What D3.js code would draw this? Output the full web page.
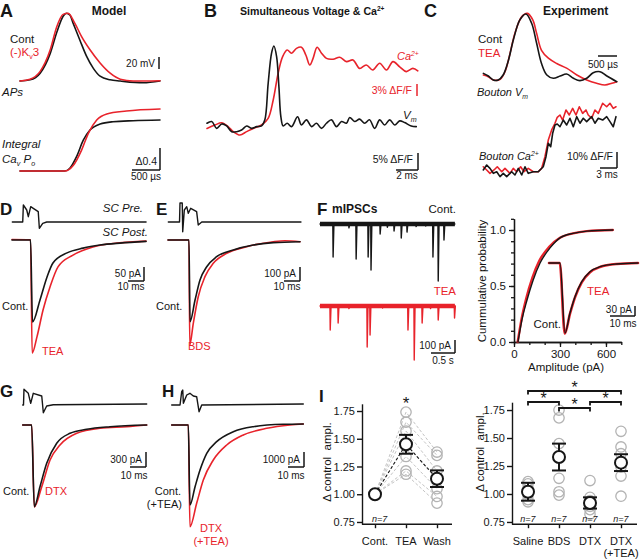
<!DOCTYPE html>
<html><head><meta charset="utf-8">
<script src="https://cdn.jsdelivr.net/npm/d3@7"></script>
<style>body{margin:0;background:#fff}</style>
</head><body><svg id="fig" width="640" height="559"></svg>
<script>
const RED = "#e8232b", BLK = "#161616", GREY = "#b3b3b3";
const FONT = '"Liberation Sans", Arial, Helvetica, sans-serif';

// ================= DATA =================
// A: model APs (ms, mV) and integral CaV Po
const apContA = [[0,-70],[0.18,-68],[0.36,-57],[0.54,-24],[0.66,12],[0.77,38],[0.83,43],[0.89,40],[0.95,26],[1.07,-2],[1.19,-29],[1.31,-49],[1.43,-62],[1.61,-68],[1.79,-70],[2.2,-73],[2.5,-70]];
const apKv3A  = [[0,-70],[0.18,-67],[0.36,-54],[0.54,-18],[0.655,20],[0.77,41],[0.86,43],[0.98,26],[1.10,4],[1.25,-18],[1.43,-40],[1.61,-57],[1.79,-67],[2.02,-70],[2.5,-69.5]];
const intContA = [[0,0],[0.8,0],[0.89,0.05],[1.01,0.26],[1.13,0.56],[1.25,0.745],[1.43,0.855],[1.66,0.896],[2.02,0.915],[2.5,0.927]];
const intKv3A  = [[0,0],[0.8,0],[0.95,0.1],[1.10,0.38],[1.22,0.685],[1.37,0.927],[1.55,1.036],[1.9,1.09],[2.5,1.127]];

// B: simultaneous Vm and Ca (ms, % dF/F)
const vmB = [[0,1.4],[0.43,1.9],[0.88,-0.1],[1.34,1.2],[1.79,0.6],[2.25,-1.1],[2.7,-1.1],[3.15,-0.6],[3.61,0.6],[4.06,-0.1],[4.52,0.4],[4.97,0.6],[5.27,2.4],[5.57,13.1],[5.88,22.0],[6.09,24.1],[6.34,21.0],[6.55,12.1],[6.73,3.3],[6.94,0.6],[7.3,1.4],[7.7,0.4],[8.25,3.3],[8.6,0.9],[9.06,2.4],[9.52,0.4],[9.97,1.4],[10.43,-0.1],[10.88,1.4],[11.34,2.4],[11.79,0.4],[12.25,1.9],[12.7,1.4],[13.0,3.1],[13.45,1.9],[13.9,2.6],[14.36,1.4],[14.8,2.4],[15.27,-0.1],[15.73,2.4],[16.18,0.9],[16.64,2.4],[17.1,0.9],[17.55,2.1],[18.0,1.6],[18.6,0.6],[19.06,0.4]];
const caB = [[0,-0.1],[0.73,0.75],[1.34,1.3],[1.94,0.3],[2.39,-0.9],[3.0,-1.75],[3.61,-0.9],[4.21,-0.1],[4.97,0.75],[5.57,2.4],[6.03,7.0],[6.48,13.7],[6.88,17.8],[7.3,19.5],[7.7,18.7],[8.15,19.9],[8.6,20.2],[9.0,18.25],[9.36,15.75],[9.66,17.4],[10.03,20.2],[10.43,18.7],[10.88,17.4],[11.48,17.2],[12.09,17.7],[12.7,16.6],[13.3,17],[13.9,14.9],[14.5,15.75],[15.1,14.5],[15.73,16.2],[16.34,14.5],[16.94,16.6],[17.55,15.3],[18.15,14.1],[18.75,14.9],[19.2,14.3]];

// C: experiment, bouton Vm (ms, normalised) and bouton Ca (ms, % dF/F)
const vmContC = [[0.01,0.10],[0.14,0.06],[0.27,0],[0.40,0],[0.53,0.076],[0.67,0.30],[0.80,0.61],[0.97,0.91],[1.13,1.0],[1.28,0.86],[1.41,0.56],[1.54,0.25],[1.68,0.076],[1.85,0.026],[2.03,0.06],[2.20,0.09],[2.38,0.026],[2.55,-0.01],[2.73,0.026],[2.90,0.11],[3.08,0.126],[3.26,0.06],[3.52,-0.026]];
const vmTeaC  = [[0.01,0.076],[0.14,0.05],[0.27,0],[0.45,0.01],[0.58,0.126],[0.71,0.40],[0.84,0.71],[1.02,0.96],[1.17,1.01],[1.31,0.91],[1.41,0.71],[1.54,0.45],[1.72,0.33],[1.94,0.25],[2.20,0.18],[2.47,0.076],[2.73,0],[2.99,-0.05],[3.21,-0.076],[3.39,-0.05],[3.52,-0.026]];
const caContC = [[0.05,1.9],[0.65,5],[1.23,2.9],[1.82,-0.2],[2.42,0.8],[3.0,-2.3],[3.58,-0.2],[4.18,-2.3],[5.06,0.8],[5.64,-1.25],[6.23,2.9],[6.83,-1.25],[7.41,3.9],[7.99,-0.2],[8.87,0.8],[9.75,0.8],[10.63,3.9],[11.11,10.2],[11.52,18.6],[11.94,16.4],[12.29,24.8],[12.70,30],[13.10,30.6],[13.58,28.9],[14.16,33.1],[14.76,30],[15.34,34.2],[15.93,28.9],[16.53,35.2],[17.11,31.1],[17.69,34.2],[18.29,32.1],[19.17,35.2],[19.75,31.1],[20.34,34.2],[21.11,33.1],[21.82,35.2],[22.4,32.1],[22.98,28.9],[23.46,35.2]];
const caTeaC  = [[0.05,3.9],[0.65,1.9],[1.23,-0.2],[1.94,1.9],[2.52,3.9],[3.3,0.8],[3.88,2.9],[4.76,-0.2],[5.34,2.9],[5.94,0.8],[6.64,3.9],[7.23,0.8],[7.99,2.9],[8.87,0.8],[9.75,0.8],[10.34,2.9],[10.93,10.2],[11.52,20.6],[12.11,26.9],[12.70,31.1],[13.10,34.8],[13.58,36.25],[14.05,33.1],[14.64,39.4],[15.22,36.25],[15.82,40.4],[16.4,36.25],[16.99,41.4],[17.58,37.3],[18.17,39.4],[18.57,36.25],[19.17,34.2],[19.75,39.4],[20.34,37.3],[21.11,43.6],[21.82,41.4],[22.4,43.6],[22.98,40.4],[23.46,41.4]];

// D, E, G, H: presynaptic stimulus (ms, a.u.) and IPSCs (ms, pA)
const preD = [[0.2,0],[6.7,0],[7.1,17],[9.2,12],[10.2,5.3],[11.7,15.3],[13.3,13.7],[16.4,10.3],[17.1,-6.3],[19.2,-1.3],[21.7,0],[83.8,0]];
const contD = [[0,0],[11.6,0],[12.8,-293],[17.5,-214],[21.9,-132],[25.6,-82],[34.4,-46],[44.4,-29],[55,-18],[67.5,-11],[83.75,-5]];
const teaD  = [[0,2],[11.6,1],[12.6,-404],[15.6,-346],[19.4,-250],[23.75,-168],[28.75,-96],[38.1,-54],[50.6,-25],[65.6,-11],[83.75,-4]];
const preE = [[0.2,0],[7.2,0],[7.5,19],[8.9,19],[9.2,-9.7],[10.2,12],[11.7,15.3],[12.7,8.7],[14.2,13.7],[17.9,10.3],[18.9,-3],[21.1,0],[83.1,0]];
const contE = [[0,0],[13.1,0],[13.75,-583],[16.9,-429],[20,-286],[24.2,-191],[30.4,-119],[40.8,-71],[53.3,-36],[65.8,-19],[82.5,-12]];
const bdsE  = [[0,0],[13.1,0],[13.6,-750],[15.8,-595],[18.9,-405],[23.1,-262],[28.3,-166],[36.7,-95],[49.2,-48],[65.8,-12],[73.1,-5],[82.5,-12]];
const preG = [[0,0],[0.5,0],[0.8,15.7],[3.5,11.7],[5,1.7],[6.6,11.7],[11.9,9],[12.9,-7.7],[15,-1],[19.1,0.3],[77.5,1]];
const contG = [[0,0],[5.6,0],[7.25,-1634],[10.8,-1234],[15,-766],[21.25,-366],[29.6,-166],[40,-86],[54.6,-34],[77.5,0]];
const dtxG  = [[0,0],[5.6,0],[7.25,-1640],[11.9,-1234],[17.1,-700],[23.3,-400],[33.75,-166],[48.3,-66],[65,-34],[77.5,0]];
const preH = [[0,0],[5.2,0],[6.25,13.3],[6.9,15],[7.3,1.7],[9.4,10],[11.4,11.7],[13.5,9],[15.6,8.3],[17.1,-6.7],[18.75,0],[82.25,1]];
const contH = [[0,0],[10.4,0],[11.4,-5333],[14.6,-4113],[17.7,-3000],[21.9,-1887],[28.1,-1113],[38.5,-447],[51,-113],[69.75,47],[82.25,67]];
const dtxH  = [[0,0],[10.4,0],[11.4,-6780],[15.6,-5220],[19.75,-3667],[26,-2333],[34.4,-1333],[44.75,-667],[59.4,-222],[73.9,0],[82.25,67]];

// F: mIPSC events (time s, amplitude pA)
const mipscCont = [[0.27,254],[0.6,30],[0.75,269],[1.0,254],[1.06,354],[1.25,77],[1.4,25],[1.54,54],[1.69,108],[1.81,62],[2.0,20],[2.2,15],[2.35,254],[2.46,438],[2.58,123]];
const mipscTea  = [[0.21,185],[0.375,131],[0.6,20],[0.98,315],[1.04,223],[1.3,15],[1.83,185],[1.96,415],[2.125,131],[2.3,20],[2.46,108],[2.80,92]];
const mipscDur = 2.81;
// F: cumulative amplitude distributions (pA, probability)
const cdfCont = [[26,0],[52,0.20],[85,0.375],[124,0.55],[170,0.705],[235,0.84],[300,0.93],[385,0.97],[476,0.99],[645,1.0]];
const cdfTea  = [[24,0],[50,0.21],[80,0.39],[120,0.575],[165,0.725],[230,0.85],[300,0.93],[385,0.97],[476,0.99],[645,1.0]];
// F inset: average mIPSC (ms, pA)
const avgCont = [[0,0],[4.4,0],[6.4,-210],[8.4,-150],[10.4,-101],[13.1,-56],[16.4,-26],[20.4,-11],[27.1,-3],[35.6,0]];
const avgTea  = [[0,0],[4.3,0],[6.3,-212],[8.4,-152],[10.4,-103],[13.1,-58],[16.4,-28],[20.4,-12],[27.1,-3],[35.6,0]];
const cdfXTicks = [0, 300, 600];
const cdfYTicks = [0, 0.5, 1.0];

// I left: TEA wash-in (normalised amplitude)
const catsL = ["Cont.", "TEA", "Wash"];
const contI = [1,1,1,1,1,1,1];
const teaI  = [1.74,1.65,1.57,1.45,1.34,1.21,1.18];
const washI = [1.38,1.35,1.21,1.13,1.05,0.98,0.92];
const meanL = [1.00, 1.45, 1.14];
const semL  = [0, 0.085, 0.075];
// I right: groups
const catsR = ["Saline", "BDS", "DTX", "DTX (+TEA)"];
const salineI = [1.11,1.09,1.05,1.02,0.99,0.95,0.93];
const bdsI    = [1.75,1.68,1.45,1.33,1.14,1.02,0.99];
const dtxI    = [1.12,0.97,0.94,0.91,0.89,0.86,0.82];
const dtxTeaI = [1.56,1.42,1.36,1.28,1.24,1.16,0.98];
const meanR = [1.02, 1.33, 0.92, 1.28];
const semR  = [0.08, 0.12, 0.05, 0.075];
const sigPairs = [["Saline","DTX (+TEA)",0],["Saline","BDS",1],["DTX","DTX (+TEA)",1],["BDS","DTX",2]];
const iTicks = [0.75, 1.00, 1.25, 1.50, 1.75];

// ================= DRAWING =================
const svg = d3.select("#fig");
svg.append("rect").attr("width",640).attr("height",559).attr("fill","#fff");
const g = svg.append("g");

function path(data, xs, ys, color, w, curve) {
  return g.append("path").datum(data)
    .attr("fill","none").attr("stroke",color).attr("stroke-width",w||1.5)
    .attr("stroke-linejoin","round").attr("stroke-linecap","round")
    .attr("d", d3.line().x(d=>xs(d[0])).y(d=>ys(d[1])).curve(curve||d3.curveLinear));
}
function seg(x1,y1,x2,y2,color,w){
  return g.append("line").attr("x1",x1).attr("y1",y1).attr("x2",x2).attr("y2",y2)
    .attr("stroke",color||BLK).attr("stroke-width",w||1.4);
}
function T(x, y, parts, o) {
  o = o||{};
  const fs = o.size||11;
  const el = g.append("text").attr("x",x).attr("y",y)
    .attr("font-size", fs).attr("font-family",FONT)
    .attr("fill", o.fill||BLK).attr("text-anchor", o.anchor||"start");
  if (o.bold) el.attr("font-weight","bold");
  if (o.italic) el.attr("font-style","italic");
  if (o.rotate) el.attr("transform",`rotate(${o.rotate},${x},${y})`);
  if (typeof parts === "string") parts=[{t:parts}];
  let shift = 0;
  parts.forEach(p=>{
    const ts = el.append("tspan").text(p.t);
    const target = p.sub ? 0.3*fs : (p.sup ? -0.4*fs : 0);
    ts.attr("dy", target - shift); shift = target;
    if (p.sub||p.sup) ts.attr("font-size", fs*0.62);
    if (p.fill) ts.attr("fill",p.fill);
  });
  return el;
}
function vbar(x, yb, len, c){ seg(x, yb, x, yb-len, c, 1.5); }
function hbar(xr, y, len, c){ seg(xr-len, y, xr, y, c, 1.5); }
const LW = 1.6;

// ---------- A ----------
const xA = d3.scaleLinear().domain([0,2.5]).range([20,160]);
const yApA = d3.scaleLinear().domain([-70,43]).range([81,13.2]);
const yIntA = d3.scaleLinear().domain([0,1]).range([171,116]);
path(apContA, xA, yApA, BLK, LW, d3.curveMonotoneX);
path(apKv3A, xA, yApA, RED, LW, d3.curveMonotoneX);
path(intContA, xA, yIntA, BLK, LW, d3.curveMonotoneX);
path(intKv3A, xA, yIntA, RED, LW, d3.curveMonotoneX);
vbar(159, 69, yApA(-70)-yApA(-50));
vbar(160, 170, yIntA(0)-yIntA(0.4));
hbar(160, 170, xA(0.5)-xA(0));
T(0, 17, "A", {size:18, bold:true});
T(109, 15, "Model", {size:12, bold:true, anchor:"middle"});
T(10, 43, "Cont", {size:11.5});
T(10, 56, [{t:"(-)K"},{t:"v",sub:true},{t:"3"}], {size:11.5, fill:RED});
T(155, 67, "20 mV", {size:10, anchor:"end"});
T(2, 96, "APs", {size:11.5, italic:true});
T(2, 148, "Integral", {size:11.5, italic:true});
T(2, 163, [{t:"Ca"},{t:"v",sub:true},{t:" P"},{t:"o",sub:true}], {size:11.5, italic:true});
T(157, 165, "Δ0.4", {size:10.5, anchor:"end"});
T(146, 180, "500 µs", {size:10, anchor:"middle"});

// ---------- B ----------
const xB = d3.scaleLinear().domain([0,19.4]).range([207,420]);
const yVmB = d3.scaleLinear().domain([0,10]).range([128,94]);
const yCaB = d3.scaleLinear().domain([0,10]).range([128,88]);
path(caB, xB, yCaB, RED, LW, d3.curveCatmullRom.alpha(0.5));
path(vmB, xB, yVmB, BLK, LW, d3.curveCatmullRom.alpha(0.5));
vbar(417, 96, yCaB(0)-yCaB(3), RED);
vbar(418, 170, yVmB(0)-yVmB(5));
hbar(418, 170, xB(2)-xB(0));
T(204, 17, "B", {size:18, bold:true});
T(240, 15, [{t:"Simultaneous Voltage & Ca"},{t:"2+",sup:true}], {size:10.6, bold:true});
T(397, 60, [{t:"Ca"},{t:"2+",sup:true}], {size:11, italic:true, fill:RED});
T(412, 94, "3% ΔF/F", {size:10.5, anchor:"end", fill:RED});
T(403, 119, [{t:"V"},{t:"m",sub:true}], {size:11.5, italic:true});
T(413, 163, "5% ΔF/F", {size:10.5, anchor:"end"});
T(407, 179, "2 ms", {size:10, anchor:"middle"});

// ---------- C ----------
const xCv = d3.scaleLinear().domain([0,3.5]).range([483,616]);
const yCv = d3.scaleLinear().domain([0,1]).range([80,14]);
const xCc = d3.scaleLinear().domain([0,23.5]).range([483,616.2]);
const yCc = d3.scaleLinear().domain([0,10]).range([173,157]);
path(vmTeaC, xCv, yCv, RED, LW, d3.curveCatmullRom.alpha(0.5));
path(vmContC, xCv, yCv, BLK, LW, d3.curveCatmullRom.alpha(0.5));
path(caTeaC, xCc, yCc, RED, LW);
path(caContC, xCc, yCc, BLK, LW);
hbar(617, 56, xCv(0.5)-xCv(0));
vbar(617, 168, yCc(0)-yCc(10));
hbar(617, 168, xCc(3)-xCc(0));
T(424, 17, "C", {size:18, bold:true});
T(543, 15, "Experiment", {size:12, bold:true});
T(478, 43, "Cont", {size:11.5});
T(478, 57, "TEA", {size:11.5, fill:RED});
T(603, 68, "500 µs", {size:10, anchor:"middle"});
T(477, 96, [{t:"Bouton V"},{t:"m",sub:true}], {size:11, italic:true});
T(479, 160, [{t:"Bouton Ca"},{t:"2+",sup:true}], {size:11, italic:true});
T(613, 160, "10% ΔF/F", {size:10.5, anchor:"end"});
T(607, 178, "3 ms", {size:10, anchor:"middle"});

// ---------- D ----------
const xD = d3.scaleLinear().domain([0,84]).range([12,146.4]);
const yD = d3.scaleLinear().domain([0,-50]).range([240,254]);
const ySD = d3.scaleLinear().domain([0,10]).range([222,212]);
path(preD, xD, ySD, BLK, 1.4);
path(teaD, xD, yD, RED, LW, d3.curveMonotoneX);
path(contD, xD, yD, BLK, LW, d3.curveMonotoneX);
vbar(144, 281, yD(-50)-yD(0));
hbar(144, 281, xD(10)-xD(0));
T(0, 215, "D", {size:17, bold:true});
T(143, 212, "SC Pre.", {size:11.5, italic:true, anchor:"end"});
T(148, 236, "SC Post.", {size:11.5, italic:true, anchor:"end"});
T(141, 277, "50 pA", {size:10, anchor:"end"});
T(131, 290, "10 ms", {size:10, anchor:"middle"});
T(2, 310, "Cont.", {size:11});
T(42, 355, "TEA", {size:11, fill:RED});

// ---------- E ----------
const xE = d3.scaleLinear().domain([0,84]).range([168,302.4]);
const yE = d3.scaleLinear().domain([0,-100]).range([240,254]);
const ySE = d3.scaleLinear().domain([0,10]).range([222,212]);
path(preE, xE, ySE, BLK, 1.4);
path(bdsE, xE, yE, RED, LW, d3.curveMonotoneX);
path(contE, xE, yE, BLK, LW, d3.curveMonotoneX);
vbar(300, 281, yE(-100)-yE(0));
hbar(300, 281, xE(10)-xE(0));
T(156, 215, "E", {size:17, bold:true});
T(296, 277, "100 pA", {size:10, anchor:"end"});
T(287, 290, "10 ms", {size:10, anchor:"middle"});
T(156, 310, "Cont.", {size:11});
T(188, 350, "BDS", {size:11, fill:RED});

// ---------- F (traces) ----------
const xF = d3.scaleLinear().domain([0,1]).range([320,368]);
function eventTrace(ev){
  const pts=[[0,0]];
  ev.forEach(e=>{ pts.push([e[0]-0.003,0],[e[0]+0.003,e[1]],[e[0]+0.02,0]); });
  pts.push([mipscDur,0]);
  return pts;
}
const yFc = d3.scaleLinear().domain([0,100]).range([224,237]);
const yFt = d3.scaleLinear().domain([0,100]).range([306,319]);
g.append("line").attr("x1",xF(0)).attr("x2",xF(mipscDur)).attr("y1",yFc(0)).attr("y2",yFc(0)).attr("stroke",BLK).attr("stroke-width",4.5);
path(eventTrace(mipscCont), xF, yFc, BLK, 1.4);
g.append("line").attr("x1",xF(0)).attr("x2",xF(mipscDur)).attr("y1",yFt(0)).attr("y2",yFt(0)).attr("stroke",RED).attr("stroke-width",4.5);
path(eventTrace(mipscTea), xF, yFt, RED, 1.4);
vbar(455, 353, yFt(100)-yFt(0));
hbar(455, 353, xF(0.5)-xF(0));
T(317, 215, "F", {size:17, bold:true});
T(332, 213, "mIPSCs", {size:12, bold:true});
T(456, 213, "Cont.", {size:11.5, anchor:"end"});
T(456, 295, "TEA", {size:11.5, anchor:"end", fill:RED});
T(451, 349, "100 pA", {size:10, anchor:"end"});
T(443, 364, "0.5 s", {size:10, anchor:"middle"});

// ---------- F (cumulative) ----------
const xCum = d3.scaleLinear().domain([0,700]).range([514,621.3]);
const yCum = d3.scaleLinear().domain([0,1.1]).range([342,218.8]);
const axX = g.append("g").attr("transform","translate(0,342)")
  .call(d3.axisBottom(xCum).tickValues(cdfXTicks).tickSize(5).tickSizeOuter(0).tickPadding(3));
const axXm = g.append("g").attr("transform","translate(0,342)")
  .call(d3.axisBottom(xCum).tickValues(d3.range(0,701,100)).tickSize(3).tickSizeOuter(0).tickFormat(""));
const axY = g.append("g").attr("transform","translate(514,0)")
  .call(d3.axisLeft(yCum).tickValues(cdfYTicks).tickFormat(d3.format(".1f")).tickSize(5).tickSizeOuter(0).tickPadding(3));
const axYm = g.append("g").attr("transform","translate(514,0)")
  .call(d3.axisLeft(yCum).tickValues(d3.range(0,1.101,0.1)).tickSize(3).tickSizeOuter(0).tickFormat(""));
[axX,axXm,axY,axYm].forEach(a=>{
  a.selectAll("path,line").attr("stroke",BLK).attr("stroke-width",1.3);
  a.selectAll("text").attr("font-size",11.5).attr("font-family",FONT).attr("fill",BLK);
});
path(cdfTea, xCum, yCum, RED, 2.4, d3.curveMonotoneX);
path(cdfCont, xCum, yCum, BLK, 1.4, d3.curveMonotoneX);
T(486, 281, "Cummulative probability", {size:11.5, anchor:"middle", rotate:-90});
T(566, 371, "Amplitude (pA)", {size:11.5, anchor:"middle"});
// inset
const xIn = d3.scaleLinear().domain([0,10]).range([549,574]);
const yIn = d3.scaleLinear().domain([0,-30]).range([263,273]);
path(avgTea, xIn, yIn, RED, 2.6, d3.curveMonotoneX);
path(avgCont, xIn, yIn, BLK, 1.4, d3.curveMonotoneX);
vbar(635, 316, yIn(-30)-yIn(0));
hbar(635, 316, xIn(10)-xIn(0));
T(632, 313, "30 pA", {size:10, anchor:"end"});
T(623, 327, "10 ms", {size:10, anchor:"middle"});
T(587, 295, "TEA", {size:11.5, fill:RED});
T(561, 328, "Cont.", {size:11.5, anchor:"end"});

// ---------- G ----------
const xG = d3.scaleLinear().domain([0,10]).range([22.7,38.7]);
const yG = d3.scaleLinear().domain([0,-300]).range([425,440]);
const ySG = d3.scaleLinear().domain([0,10]).range([405,395]);
path(preG, xG, ySG, BLK, 1.4);
path(dtxG, xG, yG, RED, LW, d3.curveMonotoneX);
path(contG, xG, yG, BLK, LW, d3.curveMonotoneX);
vbar(146, 467, yG(-300)-yG(0));
hbar(146, 467, xG(10)-xG(0));
T(0, 397, "G", {size:17, bold:true});
T(142, 463, "300 pA", {size:10, anchor:"end"});
T(134, 479, "10 ms", {size:10, anchor:"middle"});
T(3, 495, "Cont.", {size:11});
T(45, 495, "DTX", {size:11, fill:RED});

// ---------- H ----------
const xH = d3.scaleLinear().domain([0,10]).range([171.7,187.7]);
const yH = d3.scaleLinear().domain([0,-1000]).range([425,440]);
const ySH = d3.scaleLinear().domain([0,10]).range([405,395]);
path(preH, xH, ySH, BLK, 1.4);
path(dtxH, xH, yH, RED, LW, d3.curveMonotoneX);
path(contH, xH, yH, BLK, LW, d3.curveMonotoneX);
vbar(304, 467, yH(-1000)-yH(0));
hbar(304, 467, xH(10)-xH(0));
T(162, 397, "H", {size:17, bold:true});
T(300, 463, "1000 pA", {size:10, anchor:"end"});
T(291, 479, "10 ms", {size:10, anchor:"middle"});
T(181, 495, "Cont.", {size:11, anchor:"end"});
T(182, 508, "(+TEA)", {size:11, anchor:"end"});
T(211, 532, "DTX", {size:11, anchor:"middle", fill:RED});
T(211, 545, "(+TEA)", {size:11, anchor:"middle", fill:RED});

// ---------- I ----------
function iAxes(xAxisX0, xAxisX1, yAxisX, ys, xs, cats){
  const ay = g.append("g").attr("transform",`translate(${yAxisX},0)`)
    .call(d3.axisLeft(ys).tickValues(iTicks).tickFormat(d3.format(".2f")).tickSize(5).tickSizeOuter(0).tickPadding(2));
  ay.selectAll("path,line").attr("stroke",BLK).attr("stroke-width",1.4);
  ay.selectAll("text").attr("font-size",11).attr("font-family",FONT).attr("fill",BLK);
  const yb = ys.range()[0];
  const ax = g.append("g").attr("transform",`translate(0,${yb})`)
    .call(d3.axisBottom(xs).tickSize(4).tickSizeOuter(0).tickFormat(""));
  ax.select(".domain").remove();
  ax.selectAll("line").attr("stroke",BLK).attr("stroke-width",1.4);
  seg(xAxisX0, yb, xAxisX1, yb, BLK, 1.4);
}
function dots(vals, cx, ys){
  vals.forEach(v=> g.append("circle").attr("cx",cx).attr("cy",ys(v)).attr("r",5.2)
    .attr("fill","none").attr("stroke",GREY).attr("stroke-width",1.3));
}
function meanPt(cx, m, s, ys){
  if (s>0){
    seg(cx, ys(m-s), cx, ys(m+s), BLK, 2);
    seg(cx-7, ys(m+s), cx+7, ys(m+s), BLK, 2);
    seg(cx-7, ys(m-s), cx+7, ys(m-s), BLK, 2);
  }
  g.append("circle").attr("cx",cx).attr("cy",ys(m)).attr("r",6).attr("fill","#fff").attr("stroke",BLK).attr("stroke-width",2);
}
// left
const yIL = d3.scaleLinear().domain([0.73,1.815]).range([524.2,403.8]);
const xIL = d3.scalePoint().domain(catsL).range([375,437]);
iAxes(362, 452, 362, yIL, xIL, catsL);
const seriesL = [contI, teaI, washI];
teaI.forEach((v,i)=>{
  const pts = seriesL.map((s,k)=>[catsL[k], s[i]]);
  g.append("path").datum(pts).attr("fill","none").attr("stroke","#c4c4c4").attr("stroke-width",1)
   .attr("stroke-dasharray","3,2").attr("d", d3.line().x(d=>xIL(d[0])).y(d=>yIL(d[1])));
});
seriesL.forEach((s,k)=>dots(s, xIL(catsL[k]), yIL));
g.append("path").datum(catsL.map((c,k)=>[c,meanL[k]])).attr("fill","none").attr("stroke",BLK).attr("stroke-width",1.1)
  .attr("stroke-dasharray","3,2").attr("d", d3.line().x(d=>xIL(d[0])).y(d=>yIL(d[1])));
catsL.forEach((c,k)=>meanPt(xIL(c), meanL[k], semL[k], yIL));
catsL.forEach(c=>T(xIL(c), 545, c, {size:11, anchor:"middle"}));
T(319, 402, "I", {size:17, bold:true});
T(xIL("TEA"), 409, "*", {size:17, anchor:"middle"});
T(372, 522, "n=7", {size:9, italic:true});
T(331, 462, "Δ control  ampl.", {size:11.5, anchor:"middle", rotate:-90}).style("white-space","pre");
// right
const yIR = d3.scaleLinear().domain([0.73,1.82]).range([524.2,402.2]);
const xIR = d3.scalePoint().domain(catsR).range([528,621]);
iAxes(512, 637, 512, yIR, xIR, catsR);
const seriesR = [salineI, bdsI, dtxI, dtxTeaI];
seriesR.forEach((s,k)=>dots(s, xIR(catsR[k]), yIR));
catsR.forEach((c,k)=>meanPt(xIR(c), meanR[k], semR[k], yIR));
["Saline","BDS","DTX","DTX"].forEach((c,k)=>T(xIR(catsR[k]), 545, c, {size:11, anchor:"middle"}));
T(xIR("DTX (+TEA)"), 557, "(+TEA)", {size:11, anchor:"middle"});
catsR.forEach(c=>T(xIR(c), 522, "n=7", {size:9, italic:true, anchor:"middle"}));
T(484, 452, "Δ control  ampl.", {size:11.5, anchor:"middle", rotate:-90}).style("white-space","pre");
const levelY = [391, 402, 408];
sigPairs.forEach(p=>{
  const x1 = xIR(p[0]), x2 = xIR(p[1]), y = levelY[p[2]];
  g.append("path").attr("fill","none").attr("stroke",BLK).attr("stroke-width",1.8)
   .attr("d", `M${x1},${y+3.5}V${y}H${x2}V${y+3.5}`);
  T((x1+x2)/2, y+1.5, "*", {size:16, anchor:"middle"});
});
</script></body></html>
